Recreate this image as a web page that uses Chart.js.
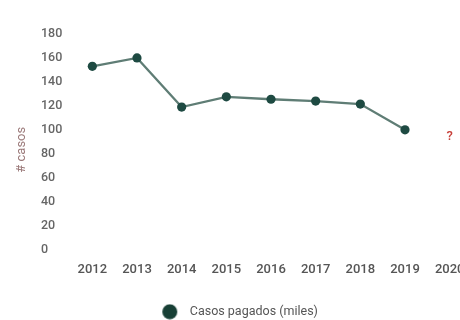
<!DOCTYPE html>
<html>
<head>
<meta charset="utf-8">
<script src="https://cdn.jsdelivr.net/npm/chart.js@4"></script>
<style>
  html, body { margin: 0; padding: 0; background: #fff; overflow: hidden; width: 460px; height: 320px; }
  #wrap { position: absolute; left: 0; top: 0; width: 480px; height: 320px; }
</style>
</head>
<body>
<div id="wrap"><canvas id="c"></canvas></div>
<script>
const years = ['2012', '2013', '2014', '2015', '2016', '2017', '2018', '2019', '2020'];
const casosPagados = [153, 160, 119, 127.5, 125.5, 124, 121.5, 100, null];
const unknownMark = { label: '?', index: 8, value: 94 };
const yTicks = { min: 0, max: 180, step: 20 };
const yTitle = '# casos';
const seriesName = 'Casos pagados (miles)';

// legend marker: circle drawn left of the box centre so text sits further away
const legendDot = document.createElement('canvas');
legendDot.width = 32; legendDot.height = 16;
(function () {
  const g = legendDot.getContext('2d');
  g.fillStyle = '#173f35';
  g.beginPath(); g.arc(8.5, 8, 7.5, 0, Math.PI * 2); g.fill();
})();

const extrasPlugin = {
  id: 'extras',
  afterLayout(chart) {
    const lg = chart.legend;
    if (lg) { lg.left -= 12; lg.right -= 12; lg.top += 8; lg.bottom += 8; }
  },
  afterDatasetsDraw(chart) {
    const { ctx, scales, chartArea } = chart;
    const x = scales.x.getPixelForValue(unknownMark.index);
    const y = scales.y.getPixelForValue(unknownMark.value);
    ctx.save();
    ctx.fillStyle = '#c8403a';
    ctx.font = '500 13px Roboto';
    ctx.textAlign = 'center';
    ctx.textBaseline = 'middle';
    ctx.fillText(unknownMark.label, x, y);
    // rotated y-axis title
    ctx.translate(21.5, (chartArea.top + chartArea.bottom) / 2 + 8);
    ctx.rotate(-Math.PI / 2);
    ctx.fillStyle = '#9a7878';
    ctx.font = '13px Roboto';
    ctx.fillText(yTitle, 0, 0);
    ctx.restore();
  }
};

new Chart(document.getElementById('c'), {
  type: 'line',
  data: {
    labels: years,
    datasets: [{
      label: seriesName,
      data: casosPagados,
      borderColor: '#5f7d75',
      borderWidth: 2.3,
      backgroundColor: '#173f35',
      pointBackgroundColor: '#1e4a42',
      pointBorderColor: '#1e4a42',
      pointBorderWidth: 0,
      pointRadius: 4.6,
      pointHoverRadius: 4.6,
      tension: 0,
      spanGaps: false
    }]
  },
  options: {
    responsive: true,
    maintainAspectRatio: false,
    animation: false,
    events: [],
    layout: { padding: { left: 41, top: 34, right: 8, bottom: 0 } },
    plugins: {
      legend: {
        position: 'bottom',
        labels: {
          usePointStyle: true,
          pointStyle: legendDot,
          padding: 3,
          color: '#555',
          font: { family: 'Roboto', size: 12.5 }
        }
      },
      tooltip: { enabled: false }
    },
    scales: {
      x: {
        offset: true,
        grid: { display: false },
        border: { display: false },
        ticks: { color: '#555', padding: 4, font: { family: 'Roboto', size: 13, weight: '500' } },
        afterFit(scale) { scale.height = 45; }
      },
      y: {
        min: yTicks.min,
        max: yTicks.max,
        grid: { display: false },
        border: { display: false },
        ticks: {
          stepSize: yTicks.step,
          crossAlign: 'far',
          padding: 7,
          color: '#666',
          font: { family: 'Roboto', size: 12.5, weight: '500' }
        },
        afterFit(scale) { scale.width = 29; }
      }
    }
  },
  plugins: [extrasPlugin]
});
</script>
</body>
</html>
